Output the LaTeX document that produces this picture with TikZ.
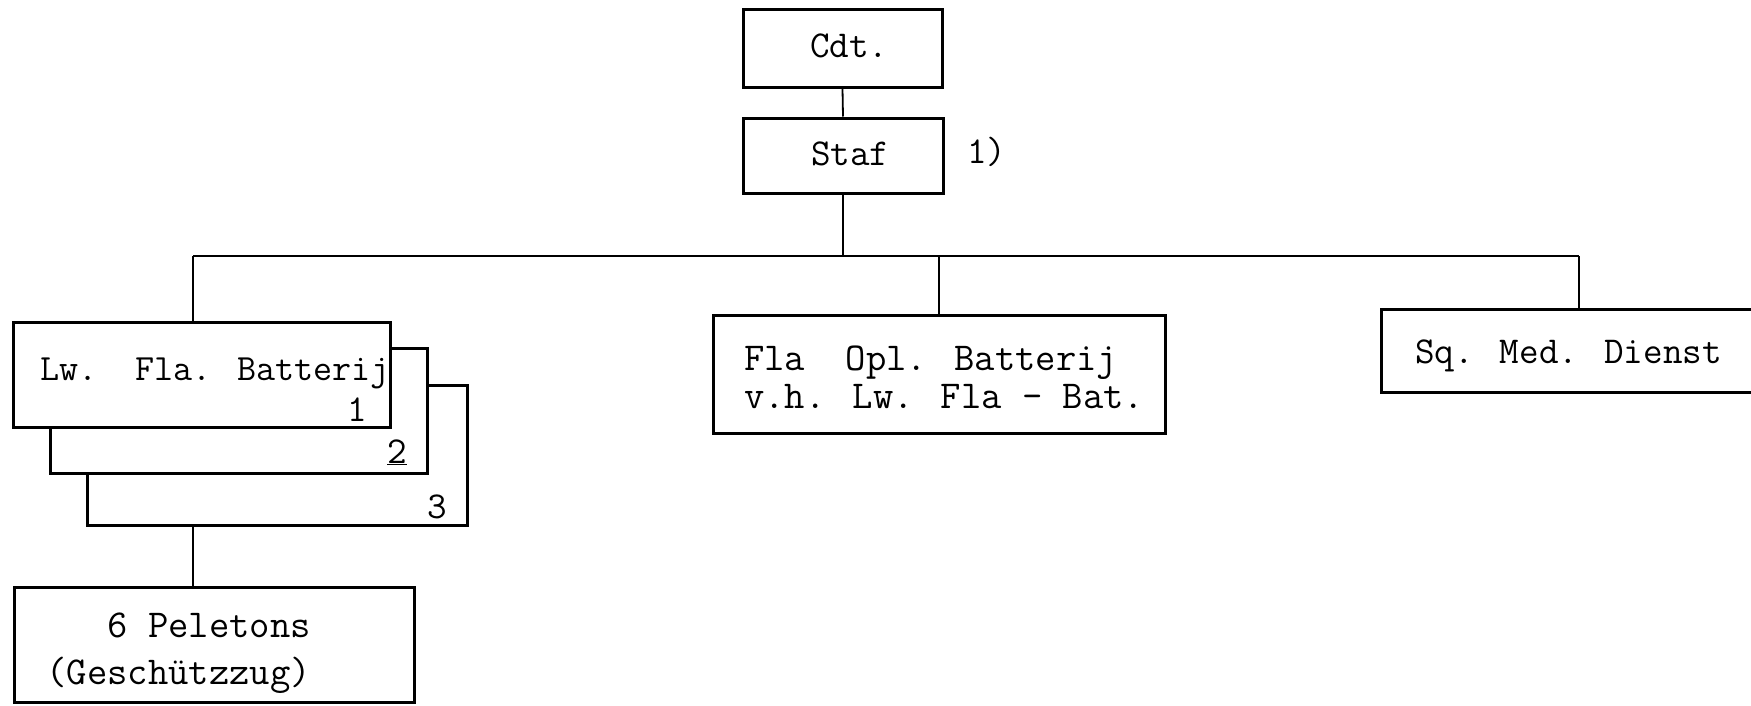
\documentclass[tikz,border=0pt]{standalone}
\usepackage{fontspec}
\begin{document}
\begin{tikzpicture}[x=1pt,y=-1pt,
  boxstyle/.style={draw, line width=3pt, fill=white, inner sep=0pt, rectangle},
  conn/.style={line width=1.8pt},
  txt/.style={inner sep=0pt, font=\ttfamily\fontsize{38}{38}\selectfont},
  txtsmall/.style={txt, font=\ttfamily\fontsize{37}{37}\selectfont},
  txtwide/.style={txt, font=\ttfamily\fontsize{39.5}{39.5}\selectfont}]
\useasboundingbox (0,0) rectangle (1751,705);
\clip (0,0) rectangle (1751,705);
\fill[white] (0,0) rectangle (1751,705);
% boxes
\node[boxstyle, minimum width=199pt, minimum height=78pt] (cdt) at (842.5,48) {};
\node[boxstyle, minimum width=200pt, minimum height=75pt] (staf) at (843,155.5) {};
\node[boxstyle, minimum width=380pt, minimum height=140pt] (bat3) at (277,455) {};
\node[boxstyle, minimum width=377pt, minimum height=125pt] (bat2) at (238.5,410.5) {};
\node[boxstyle, minimum width=377pt, minimum height=105pt] (bat1) at (201.5,374.5) {};
\node[boxstyle, minimum width=400pt, minimum height=115pt] (pel) at (214,644.5) {};
\node[boxstyle, minimum width=452pt, minimum height=118pt] (fla) at (939,374) {};
\node[boxstyle, minimum width=379pt, minimum height=83pt] (sq) at (1570.5,351) {};
% bus
\coordinate (busL) at (193,256);
\coordinate (busR) at (1579,256);
\draw[conn] (cdt.south) -- (staf.north);
\draw[conn] (staf.south) -- (staf.south |- busL);
\draw[conn] (busL) -- (busR);
\draw[conn] (busL) -- (busL |- bat1.north);
\draw[conn] (fla.north) -- (fla.north |- busL);
\draw[conn] (busR) -- (busR |- sq.north);
\draw[conn] (bat3.south -| busL) -- (pel.north -| busL);
% texts
\node[txt, anchor=base west] (tcdt) at (810,57) {Cdt.};
\node[txt, anchor=base west] (tstaf) at (811,165) {Staf};
\node[txt, anchor=base west] (tnote) at (967,163) {1)};
\node[txtsmall, anchor=base west] (tbat) at (40,380) {Lw.\ \ Fla. Batterij};
\node[txt, anchor=base west] (tn1) at (347,421) {1};
\node[txt, anchor=base west] (tn2) at (387,463) {\underline{2}};
\node[txt, anchor=base west] (tn3) at (427,518) {3};
\node[txtwide, anchor=base west] (tflaA) at (744,370) {Fla\ \ Opl. Batterij};
\node[txtwide, anchor=base west] (tflaB) at (744,408) {v.h. Lw. Fla - Bat.};
\node[txtwide, anchor=base east] (tpelA) at (311,637) {6 Peletons};
\node[txtwide, anchor=base east] (tpelB) at (311,684) {(Geschützzug)};
\node[txt, anchor=base west] (tsq) at (1415,363) {Sq. Med. Dienst};
\end{tikzpicture}
\end{document}
